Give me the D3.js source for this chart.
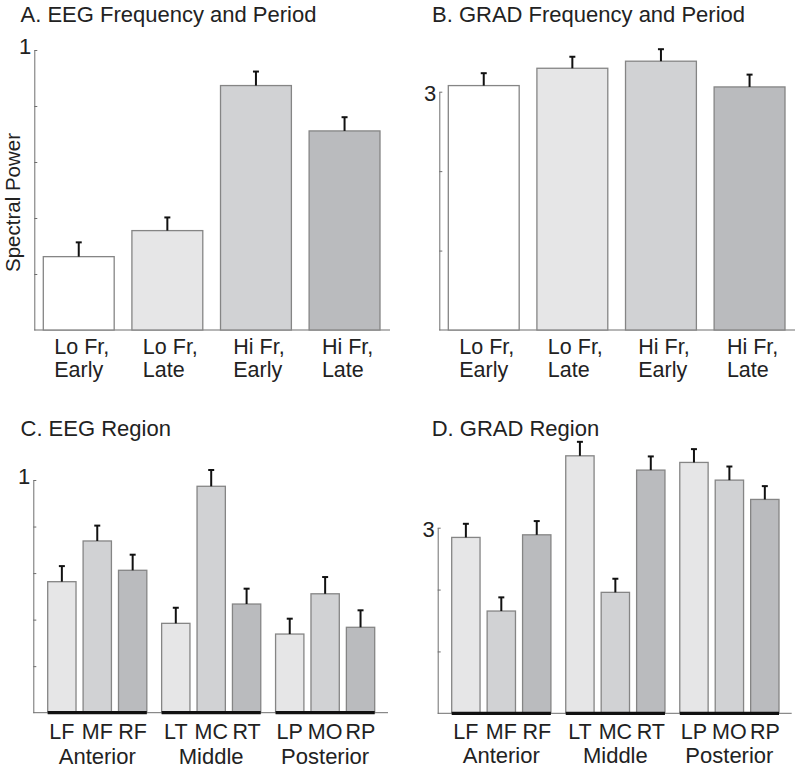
<!DOCTYPE html>
<html>
<head>
<meta charset="utf-8">
<script src="https://cdn.jsdelivr.net/npm/d3@7"></script>
<style>
  body { margin: 0; background: #fff; }
  svg { display: block; font-family: "Liberation Sans", Arial, sans-serif; }
</style>
</head>
<body>
<div id="chart"></div>
<script>
// conditions for the frequency / period panels
const freqConditions = ["Lo Fr, Early", "Lo Fr, Late", "Hi Fr, Early", "Hi Fr, Late"];
const freqColors = ["#ffffff", "#e6e6e7", "#d1d2d4", "#babbbe"];

const eegFreqPower = [0.262, 0.355, 0.873, 0.711];
const eegFreqErr = [0.051, 0.047, 0.050, 0.049];

const gradFreqPower = [3.077, 3.295, 3.384, 3.060];
const gradFreqErr = [0.156, 0.145, 0.151, 0.155];

// regions
const regionGroups = ["Anterior", "Middle", "Posterior"];
const regionSites = [["LF", "MF", "RF"], ["LT", "MC", "RT"], ["LP", "MO", "RP"]];
const siteColors = ["#e6e6e7", "#d1d2d4", "#babbbe"];

const eegRegionPower = [[0.563, 0.738, 0.612], [0.384, 0.973, 0.467], [0.338, 0.511, 0.367]];
const eegRegionErr = [[0.067, 0.066, 0.067], [0.067, 0.070, 0.066], [0.066, 0.072, 0.073]];

const gradRegionPower = [[2.843, 1.653, 2.885], [4.162, 1.955, 3.931], [4.055, 3.769, 3.457]];
const gradRegionErr = [[0.220, 0.221, 0.222], [0.226, 0.220, 0.221], [0.215, 0.220, 0.215]];

// y tick values
const eegTicks = [0.2, 0.4, 0.6, 0.8, 1];
const gradTicks = [1, 2, 3];

const svg = d3.select("#chart").append("svg")
    .attr("width", 800)
    .attr("height", 771);

const axisColor = "#6e6e6e";
const barStroke = "#858585";

function drawYAxis(g, y, x, ticks, labelDy) {
    const top = ticks[ticks.length - 1];
    const axis = d3.axisLeft(y)
        .tickValues(ticks)
        .tickSize(-3)
        .tickSizeOuter(0)
        .tickPadding(3)
        .tickFormat(d => d === top ? String(d) : "");
    const a = g.append("g")
        .attr("transform", `translate(${x},0)`)
        .call(axis);
    a.select(".domain").attr("stroke", axisColor);
    a.selectAll(".tick line").attr("stroke", axisColor);
    a.selectAll(".tick text")
        .attr("font-size", 22)
        .attr("font-family", "Liberation Sans, Arial, sans-serif")
        .attr("fill", "#222")
        .attr("dy", labelDy);
}

function drawErrors(g, items, y) {
    // only upward whiskers with a small cap
    g.selectAll(null).data(items).enter().append("line")
        .attr("x1", d => d.cx).attr("x2", d => d.cx)
        .attr("y1", d => y(d.v)).attr("y2", d => y(d.v + d.e))
        .attr("stroke", "#111").attr("stroke-width", 2);
    g.selectAll(null).data(items).enter().append("line")
        .attr("x1", d => d.cx - 3).attr("x2", d => d.cx + 3)
        .attr("y1", d => y(d.v + d.e)).attr("y2", d => y(d.v + d.e))
        .attr("stroke", "#111").attr("stroke-width", 2);
}

function freqPanel(o) {
    const g = svg.append("g");
    const x = d3.scaleBand().domain(d3.range(freqConditions.length))
        .range(o.xRange).paddingInner(0.2).paddingOuter(0);
    const y = d3.scaleLinear().domain([0, o.yMax]).range([o.yBase, o.yTopPx]);

    g.append("text").attr("x", o.titleX).attr("y", o.titleY)
        .attr("font-size", 22).attr("fill", "#222").text(o.title);

    drawYAxis(g, y, o.axisX, o.ticks, o.labelDy);

    g.append("line")
        .attr("x1", o.axisX).attr("x2", o.axisEnd)
        .attr("y1", y(0)).attr("y2", y(0))
        .attr("stroke", axisColor);

    g.selectAll(null).data(o.values).enter().append("rect")
        .attr("x", (d, i) => x(i))
        .attr("width", x.bandwidth())
        .attr("y", d => y(d))
        .attr("height", d => y(0) - y(d))
        .attr("fill", (d, i) => freqColors[i])
        .attr("stroke", barStroke).attr("stroke-width", 1.3);

    drawErrors(g, o.values.map((v, i) => ({ v: v, e: o.errs[i], cx: x(i) + x.bandwidth() / 2 })), y);

    // two-line, left aligned category labels, block centred under the bar
    freqConditions.forEach((c, i) => {
        const lines = c.split(" ").reduce((acc, w, k) => {
            if (k < 2) acc[0] = (acc[0] ? acc[0] + " " : "") + w; else acc[1] = w;
            return acc;
        }, ["", ""]);
        const t = g.append("text").attr("font-size", 21.5).attr("fill", "#222");
        const ts = lines.map((l, k) => t.append("tspan").attr("y", o.labelY + k * 22.7).text(l));
        const w = d3.max(ts, s => s.node().getComputedTextLength());
        const cx = x(i) + x.bandwidth() / 2 + 3;
        ts.forEach(s => s.attr("x", cx - w / 2));
    });

    if (o.yLabel) {
        g.append("text")
            .attr("transform", `translate(20,202.5) rotate(-90)`)
            .attr("text-anchor", "middle")
            .attr("font-size", 20.5).attr("fill", "#222")
            .text(o.yLabel);
    }
}

function regionPanel(o) {
    const g = svg.append("g");
    const gx = d3.scaleBand().domain(regionGroups).range(o.xRange).paddingInner(0.13).paddingOuter(0);
    const sx = d3.scaleBand().domain(d3.range(3)).range([0, gx.bandwidth()]).paddingInner(0.2).paddingOuter(0);
    const y = d3.scaleLinear().domain([0, o.yMax]).range([o.yBase, o.yTopPx]);

    g.append("text").attr("x", o.titleX).attr("y", o.titleY)
        .attr("font-size", 22).attr("fill", "#222").text(o.title);

    drawYAxis(g, y, o.axisX, o.ticks, o.labelDy);

    g.append("line")
        .attr("x1", o.axisX).attr("x2", o.axisEnd)
        .attr("y1", y(0)).attr("y2", y(0))
        .attr("stroke", axisColor);

    const items = [];
    regionGroups.forEach((grp, gi) => {
        regionSites[gi].forEach((s, si) => {
            items.push({
                grp: grp, site: s, si: si,
                v: o.values[gi][si], e: o.errs[gi][si],
                x: gx(grp) + sx(si), cx: gx(grp) + sx(si) + sx.bandwidth() / 2
            });
        });
    });

    g.selectAll(null).data(items).enter().append("rect")
        .attr("x", d => d.x)
        .attr("width", sx.bandwidth())
        .attr("y", d => y(d.v))
        .attr("height", d => y(0) - y(d.v))
        .attr("fill", d => siteColors[d.si])
        .attr("stroke", barStroke).attr("stroke-width", 1.3);

    drawErrors(g, items, y);

    // thick black strip under each group
    g.selectAll(null).data(regionGroups).enter().append("line")
        .attr("x1", d => gx(d)).attr("x2", d => gx(d) + gx.bandwidth())
        .attr("y1", y(0)).attr("y2", y(0))
        .attr("stroke", "#111").attr("stroke-width", 3.2);

    g.selectAll(null).data(items).enter().append("text")
        .attr("x", d => d.cx).attr("y", o.siteY)
        .attr("text-anchor", "middle")
        .attr("font-size", 21.5).attr("fill", "#222")
        .text(d => d.site);

    g.selectAll(null).data(regionGroups).enter().append("text")
        .attr("x", d => gx(d) + gx.bandwidth() / 2).attr("y", o.groupY)
        .attr("text-anchor", "middle")
        .attr("font-size", 22).attr("fill", "#222")
        .text(d => d);
}

freqPanel({
    title: "A. EEG Frequency and Period", titleX: 20.5, titleY: 22,
    axisX: 34.3, axisEnd: 390, xRange: [43.3, 380],
    yBase: 330, yTopPx: 50, yMax: 1, ticks: eegTicks, labelDy: "0.18em",
    values: eegFreqPower, errs: eegFreqErr, labelY: 354,
    yLabel: "Spectral Power"
});

freqPanel({
    title: "B. GRAD Frequency and Period", titleX: 432, titleY: 22,
    axisX: 439.3, axisEnd: 795, xRange: [448.3, 785],
    yBase: 330, yTopPx: 91.7, yMax: 3, ticks: gradTicks, labelDy: "0.38em",
    values: gradFreqPower, errs: gradFreqErr, labelY: 354
});

regionPanel({
    title: "C. EEG Region", titleX: 20.5, titleY: 436,
    axisX: 33.3, axisEnd: 388, xRange: [47.7, 374.7],
    yBase: 712.7, yTopPx: 480, yMax: 1, ticks: eegTicks, labelDy: "0.15em",
    values: eegRegionPower, errs: eegRegionErr, siteY: 739.3, groupY: 764
});

regionPanel({
    title: "D. GRAD Region", titleX: 431.7, titleY: 435.7,
    axisX: 437.7, axisEnd: 791.7, xRange: [451.7, 779],
    yBase: 713.3, yTopPx: 527.7, yMax: 3, ticks: gradTicks, labelDy: "0.41em",
    values: gradRegionPower, errs: gradRegionErr, siteY: 738.5, groupY: 763.3
});
</script>
</body>
</html>
